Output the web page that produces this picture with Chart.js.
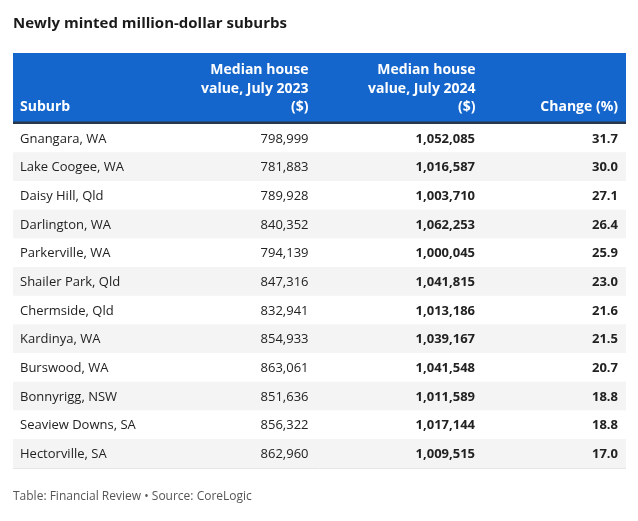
<!DOCTYPE html>
<html lang="en">
<head>
    <meta charset="UTF-8">
    <title>Newly minted million-dollar suburbs</title>
    <script src="https://cdn.jsdelivr.net/npm/chart.js"></script>
    <style>
        html, body {
            margin: 0;
            padding: 0;
            background: #ffffff;
        }

        .chart-box {
            position: relative;
            width: 638px;
            height: 521px;
        }
    </style>
</head>
<body>
    <div class="chart-box">
        <canvas id="suburbTable"></canvas>
    </div>

    <script>
        // Table data
        const suburbs = ['Gnangara, WA', 'Lake Coogee, WA', 'Daisy Hill, Qld', 'Darlington, WA',
            'Parkerville, WA', 'Shailer Park, Qld', 'Chermside, Qld', 'Kardinya, WA',
            'Burswood, WA', 'Bonnyrigg, NSW', 'Seaview Downs, SA', 'Hectorville, SA'];
        const value2023 = [798999, 781883, 789928, 840352, 794139, 847316, 832941, 854933,
            863061, 851636, 856322, 862960];
        const value2024 = [1052085, 1016587, 1003710, 1062253, 1000045, 1041815, 1013186,
            1039167, 1041548, 1011589, 1017144, 1009515];
        const changePct = [31.7, 30.0, 27.1, 26.4, 25.9, 23.0, 21.6, 21.5, 20.7, 18.8, 18.8, 17.0];
        const headers = [['Suburb'], ['Median house', 'value, July 2023', '($)'],
            ['Median house', 'value, July 2024', '($)'], ['Change (%)']];

        // Layout (table units = pixels across the table width)
        const colEdges = [0, 164, 312, 479, 613];
        const tableWidth = 613;
        const headerTop = 53;
        const FONT = '"Open Sans", sans-serif';
        const BLUE = '#1466cd';

        const fmt = v => v.toLocaleString('en-US');

        // Draws header band and cell text using the chart's scales
        const tablePlugin = {
            id: 'tableCells',
            afterDraw(chart) {
                const { ctx, chartArea } = chart;
                const x = chart.scales.x;
                const y = chart.scales.y;

                // header band
                ctx.save();
                ctx.fillStyle = BLUE;
                ctx.fillRect(chartArea.left, headerTop, chartArea.right - chartArea.left, chartArea.top - headerTop);
                ctx.fillStyle = '#26384a';
                ctx.fillRect(chartArea.left, chartArea.top - 2.5, chartArea.right - chartArea.left, 2.5);

                ctx.fillStyle = '#ffffff';
                ctx.font = 'bold 14px ' + FONT;
                ctx.textBaseline = 'middle';
                const lastLineY = chartArea.top - 17;
                headers.forEach((lines, c) => {
                    const left = c === 0;
                    const px = left ? x.getPixelForValue(colEdges[0]) + 7
                        : x.getPixelForValue(colEdges[c + 1]) - (c === 3 ? 8 : 16.5);
                    ctx.textAlign = left ? 'left' : 'right';
                    lines.forEach((line, i) => {
                        ctx.fillText(line, px, lastLineY - (lines.length - 1 - i) * 18.3);
                    });
                });

                // body cells
                ctx.fillStyle = '#222222';
                suburbs.forEach((name, r) => {
                    const py = y.getPixelForValue(r) + 0.5;
                    ctx.font = '13px ' + FONT;
                    ctx.textAlign = 'left';
                    ctx.fillText(name, x.getPixelForValue(colEdges[0]) + 7, py);
                    ctx.textAlign = 'right';
                    ctx.fillText(fmt(value2023[r]), x.getPixelForValue(colEdges[2]) - 16.5, py);
                    ctx.font = 'bold 13px ' + FONT;
                    ctx.fillText(fmt(value2024[r]), x.getPixelForValue(colEdges[3]) - 17, py);
                    ctx.fillText(changePct[r].toFixed(1), x.getPixelForValue(colEdges[4]) - 8, py);
                });
                ctx.restore();
            }
        };

        const ctx = document.getElementById('suburbTable').getContext('2d');
        new Chart(ctx, {
            type: 'bar',
            data: {
                labels: suburbs,
                datasets: [{
                    // one full-width bar per row, used as the row shading
                    data: suburbs.map(() => [0, tableWidth]),
                    backgroundColor: suburbs.map((s, i) => i % 2 ? '#f4f4f4' : '#ffffff'),
                    barPercentage: 1,
                    categoryPercentage: 1,
                    borderWidth: 0
                }]
            },
            options: {
                indexAxis: 'y',
                responsive: true,
                maintainAspectRatio: false,
                animation: false,
                events: [],
                layout: {
                    padding: { left: 13, right: 12, top: 0, bottom: 0 }
                },
                scales: {
                    x: {
                        type: 'linear',
                        min: 0,
                        max: tableWidth,
                        z: 1,
                        afterBuildTicks: scale => {
                            scale.ticks = colEdges.slice(1, 4).map(v => ({ value: v }));
                        },
                        ticks: { display: false },
                        border: { display: false },
                        grid: { color: '#8a8a8a', lineWidth: 1.5, drawTicks: false }
                    },
                    y: {
                        z: 1,
                        ticks: { display: false },
                        border: { display: false },
                        grid: {
                            offset: true,
                            drawTicks: false,
                            lineWidth: 1,
                            color: c => (c.index === 0 || c.index === suburbs.length) ? 'rgba(0,0,0,0)' : '#e6e6e6'
                        }
                    }
                },
                plugins: {
                    legend: { display: false },
                    tooltip: { enabled: false },
                    title: {
                        display: true,
                        text: 'Newly minted million-dollar suburbs',
                        align: 'start',
                        color: '#1a1a1a',
                        font: { family: FONT, size: 15, weight: 'bold' },
                        padding: { top: 15, bottom: 91 }
                    },
                    subtitle: {
                        display: true,
                        position: 'bottom',
                        text: 'Table: Financial Review \u2022 Source: CoreLogic',
                        align: 'start',
                        color: '#555555',
                        font: { family: FONT, size: 12 },
                        padding: { top: 21, bottom: 17.6 }
                    }
                }
            },
            plugins: [tablePlugin]
        });
    </script>
</body>
</html>
